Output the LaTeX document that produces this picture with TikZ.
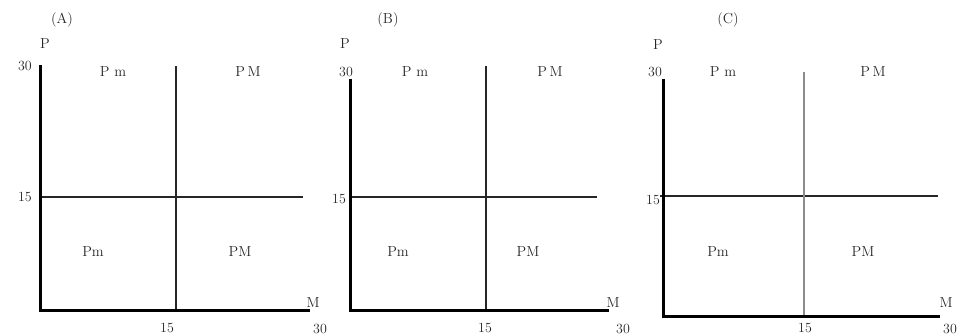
\documentclass[tikz,border=0pt]{standalone}
\begin{document}
\begin{tikzpicture}[x=1pt,y=-1pt,
  lbl/.style={font=\fontsize{14.5}{14.5}\selectfont, inner sep=0pt, text=black!85},
  num/.style={font=\fontsize{14}{14}\selectfont, inner sep=0pt, text=black!85},
  axisline/.style={line width=3pt, line cap=rect},
  midline/.style={line width=1.1pt, black!85},
  greyline/.style={line width=1.1pt, black!45}]
\useasboundingbox (0,0) rectangle (963,335);
% ---------- Panel A ----------
\coordinate (Ao) at (40,310);
\coordinate (At) at (40,66);
\coordinate (Ar) at (308,310);
\coordinate (Ahl) at (40,197);
\coordinate (Ahr) at (303,197);
\coordinate (Avt) at (176,66);
\coordinate (Avb) at (176,310);
\draw[midline] (Ahl) -- (Ahr);
\draw[midline] (Avt) -- (Avb);
\draw[axisline] (At) -- (Ao) -- (Ar);
\node[lbl] (Atitle) at (62,20) {(A)};
\node[lbl] (AP) at (45,44) {P};
\node[num] (A30) at (25,66) {30};
\node[num] (A15) at (25,197) {15};
\node[lbl] (APm1) at (113,72) {P\,\,m};
\node[lbl] (APM1) at (248,72) {P\,M};
\node[lbl] (APm2) at (93,252) {Pm};
\node[lbl] (APM2) at (240,252) {PM};
\node[lbl] (AM) at (313,303) {M};
\node[num] (Ab15) at (167,328) {15};
\node[num] (Ab30) at (320,329) {30};
% ---------- Panel B ----------
\coordinate (Bo) at (350,310);
\coordinate (Bt) at (350,80);
\coordinate (Br) at (607,310);
\coordinate (Bhl) at (350,197);
\coordinate (Bhr) at (597,197);
\coordinate (Bvt) at (486,66);
\coordinate (Bvb) at (486,310);
\draw[midline] (Bhl) -- (Bhr);
\draw[midline] (Bvt) -- (Bvb);
\draw[axisline] (Bt) -- (Bo) -- (Br);
\node[lbl] (Btitle) at (388,20) {(B)};
\node[lbl] (BP) at (345,44) {P};
\node[num] (B30) at (346,72) {30};
\node[num] (B15) at (339,199) {15};
\node[lbl] (BPm1) at (415,72) {P\,\,m};
\node[lbl] (BPM1) at (550,72) {P\,M};
\node[lbl] (BPm2) at (398,252) {Pm};
\node[lbl] (BPM2) at (528,252) {PM};
\node[lbl] (BM) at (613,303) {M};
\node[num] (Bb15) at (485,328) {15};
\node[num] (Bb30) at (623,329) {30};
% ---------- Panel C ----------
\coordinate (Co) at (663,316);
\coordinate (Ct) at (663,80);
\coordinate (Cr) at (938,316);
\coordinate (Chl) at (660,196);
\coordinate (Chr) at (938,196);
\coordinate (Cvt) at (804,72);
\coordinate (Cvb) at (804,316);
\draw[midline] (Chl) -- (Chr);
\draw[greyline] (Cvt) -- (Cvb);
\draw[axisline] (Ct) -- (Co) -- (Cr);
\node[lbl] (Ctitle) at (728,20) {(C)};
\node[lbl] (CP) at (658,45) {P};
\node[num] (C30) at (655,72) {30};
\node[num] (C15) at (653,200) {15};
\node[lbl] (CPm1) at (723,72) {P\,\,m};
\node[lbl] (CPM1) at (873,72) {P\,M};
\node[lbl] (CPm2) at (718,252) {Pm};
\node[lbl] (CPM2) at (863,252) {PM};
\node[lbl] (CM) at (946,303) {M};
\node[num] (Cb15) at (805,328) {15};
\node[num] (Cb30) at (950,329) {30};
\end{tikzpicture}
\end{document}
